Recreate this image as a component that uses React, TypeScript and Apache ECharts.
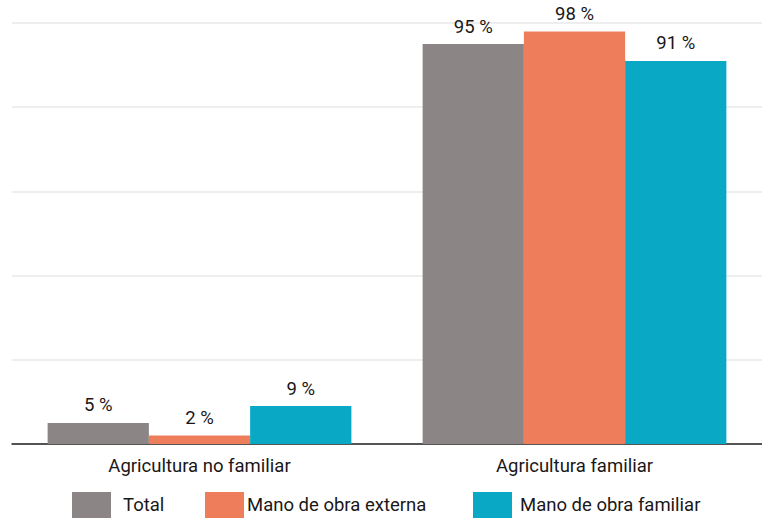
import React, { useEffect, useRef } from "react";
import * as echarts from "echarts";

const categories = ["Agricultura no familiar", "Agricultura familiar"];
const seriesNames = ["Total", "Mano de obra externa", "Mano de obra familiar"];
const totalValues = [5, 95];
const externaValues = [2, 98];
const familiarValues = [9, 91];
const colors = ["#8b8685", "#ee7d5c", "#09a8c4"];

const FONT = "Roboto, 'Open Sans', sans-serif";
const FS = 18.5;
const FW = 400;
const TEXT = "#1a1718";

export default function App() {
  const ref = useRef<HTMLDivElement>(null);
  useEffect(() => {
    const chart = echarts.init(ref.current!, null, { renderer: "svg" });
    const values = [totalValues, externaValues, familiarValues];
    const legendLefts = [72, 205, 473];
    const legendPads = [7, -2, 3];
    chart.setOption({
      animation: false,
      textStyle: { fontFamily: FONT },
      grid: { left: 12, width: 756, top: 23, bottom: 74, containLabel: false },
      legend: seriesNames.map((n, i) => ({
        top: 492,
        left: legendLefts[i],
        padding: 0,
        itemWidth: 39,
        itemHeight: 26,
        icon: "rect",
        textStyle: {
          fontSize: FS,
          fontWeight: FW,
          color: TEXT,
          fontFamily: FONT,
          padding: [0, 0, 0, legendPads[i]],
        },
        data: [{ name: n }],
      })),
      xAxis: {
        type: "category",
        data: categories,
        axisLine: { show: true, lineStyle: { color: "#222", width: 1.5 } },
        axisTick: { show: false },
        axisLabel: { fontSize: FS, fontWeight: FW, color: TEXT, margin: 12, fontFamily: FONT },
      },
      yAxis: {
        type: "value",
        min: 0,
        max: 100,
        interval: 20,
        axisLabel: { show: false },
        axisLine: { show: false },
        axisTick: { show: false },
        splitLine: { lineStyle: { color: "#e8e8e8", width: 1.5 } },
      },
      series: seriesNames.map((name, i) => ({
        name,
        type: "bar",
        data: values[i],
        barGap: "0%",
        barCategoryGap: "19%",
        itemStyle: { color: colors[i] },
        label: {
          show: true,
          position: "top",
          distance: 8,
          formatter: "{c} %",
          fontSize: FS,
          fontWeight: FW,
          color: TEXT,
          fontFamily: FONT,
        },
      })),
    });
    return () => chart.dispose();
  }, []);
  return (
    <div
      ref={ref}
      style={{ position: "fixed", left: 0, top: 0, width: 762, height: 518, background: "#fff" }}
    />
  );
}
